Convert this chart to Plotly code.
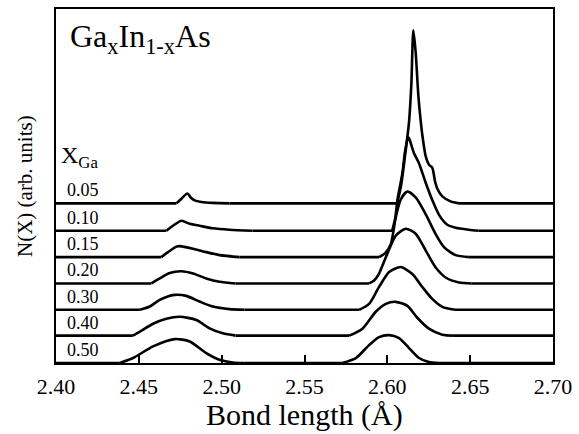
import plotly.graph_objects as go

# Ga fraction labels (top to bottom)
x_ga = ["0.05", "0.10", "0.15", "0.20", "0.30", "0.40", "0.50"]
# vertical offsets of each curve (arb. units)
offsets = [160.5, 133, 106.5, 80, 53.5, 27.5, 0]

bond_005 = [2.400, 2.4727, 2.4759, 2.4793, 2.4813, 2.4837, 2.4877, 2.4945, 2.5047, 2.6059, 2.6083, 2.6107, 2.6121, 2.6131, 2.6145, 2.6157, 2.6171, 2.6187, 2.6202, 2.6211, 2.6232, 2.6251, 2.6271, 2.6288, 2.6301, 2.6332, 2.6382, 2.6432, 2.700]
n_005 = [0, 0, 5, 10, 6, 3, 1.5, 0.5, 0, 0, 18, 48, 67, 82, 120, 174, 152, 109, 82, 69, 47, 39, 36, 22, 15, 7, 2, 0, 0]

bond_010 = [2.400, 2.4666, 2.4706, 2.4757, 2.4807, 2.4867, 2.4945, 2.5047, 2.5186, 2.6029, 2.6047, 2.6061, 2.6091, 2.6107, 2.6125, 2.6131, 2.6161, 2.6191, 2.6232, 2.6271, 2.6312, 2.6362, 2.6412, 2.6492, 2.6552, 2.700]
n_010 = [0, 0, 5, 10, 7, 5, 2.5, 1, 0, 0, 12, 31, 58, 80, 94, 93, 78, 68, 48, 31, 16, 6, 3, 1, 0, 0]

bond_015 = [2.400, 2.4636, 2.4676, 2.4727, 2.4746, 2.4827, 2.4907, 2.4987, 2.5108, 2.5950, 2.5987, 2.6021, 2.6051, 2.6081, 2.6121, 2.6171, 2.6232, 2.6292, 2.6342, 2.6412, 2.6492, 2.700]
n_015 = [0, 0, 5, 10.5, 11, 8.5, 5, 2, 0, 0, 4, 13, 40, 58, 66, 60, 43, 23, 10, 2, 0, 0]

bond_020 = [2.400, 2.4576, 2.4626, 2.4686, 2.4757, 2.4827, 2.4907, 2.4987, 2.5084, 2.5890, 2.5920, 2.5950, 2.6000, 2.6051, 2.6111, 2.6171, 2.6232, 2.6292, 2.6352, 2.6432, 2.6510, 2.700]
n_020 = [0, 0, 5, 10.5, 12.3, 10, 5, 1.7, 0, 0, 3, 10, 30, 48, 55, 50, 33, 16, 6, 1, 0, 0]

bond_030 = [2.400, 2.4506, 2.4566, 2.4626, 2.4716, 2.4787, 2.4867, 2.4947, 2.5047, 2.5138, 2.5830, 2.5890, 2.5950, 2.6011, 2.6081, 2.6151, 2.6211, 2.6271, 2.6332, 2.6408, 2.700]
n_030 = [0, 0, 3.3, 10, 15, 14, 8.3, 3.3, 0.7, 0, 0, 6, 23, 38, 43, 36, 23, 11, 3, 0, 0]

bond_040 = [2.400, 2.4464, 2.4506, 2.4586, 2.4666, 2.4746, 2.4847, 2.4927, 2.5007, 2.5084, 2.5770, 2.5850, 2.5930, 2.5991, 2.6051, 2.6121, 2.6181, 2.6251, 2.6332, 2.6402, 2.700]
n_040 = [0, 0, 4, 12, 17, 19, 15.7, 7.3, 2.3, 0, 0, 7, 24, 32, 34, 30, 18, 7, 1, 0, 0]

bond_050 = [2.400, 2.4385, 2.4465, 2.4586, 2.4716, 2.4807, 2.4907, 2.4987, 2.5067, 2.5138, 2.5728, 2.5810, 2.5890, 2.5950, 2.6011, 2.6071, 2.6131, 2.6191, 2.6251, 2.6312, 2.700]
n_050 = [0, 0, 5, 16.7, 24, 21.7, 10, 3.3, 0.5, 0, 0, 5, 18, 26, 28, 25, 15, 5, 1, 0, 0]

bonds = [bond_005, bond_010, bond_015, bond_020, bond_030, bond_040, bond_050]
ns = [n_005, n_010, n_015, n_020, n_030, n_040, n_050]

x_ticks = [2.40, 2.45, 2.50, 2.55, 2.60, 2.65, 2.70]

SERIF = "Liberation Serif, Times New Roman, serif"
LINE = dict(color="black", width=2.6)


def split_runs(xs, ys):
    """Return (peak index ranges, flat index ranges) for a curve."""
    peaks, i, n = [], 0, len(ys)
    while i < n:
        if ys[i] > 0:
            j = i
            while j < n and ys[j] > 0:
                j += 1
            peaks.append((i - 1, j))
            i = j
        else:
            i += 1
    flats, start = [], 0
    for a, b in peaks:
        flats.append((start, a))
        start = b
    flats.append((start, n - 1))
    return peaks, flats


fig = go.Figure()
for lab, off, bx, ny in zip(x_ga, offsets, bonds, ns):
    peaks, flats = split_runs(bx, ny)
    fx, fy = [], []
    for a, b in flats:
        fx += [bx[a], bx[b], None]
        fy += [ny[a] + off, ny[b] + off, None]
    fig.add_trace(go.Scatter(x=fx, y=fy, mode="lines", line=LINE,
                             showlegend=False, hoverinfo="skip"))
    for a, b in peaks:
        fig.add_trace(go.Scatter(
            x=bx[a:b + 1], y=[v + off for v in ny[a:b + 1]], mode="lines",
            line=dict(LINE, shape="spline", smoothing=0.7),
            showlegend=False, hoverinfo="skip"))

annotations = []
for lab, off in zip(x_ga, offsets):
    annotations.append(dict(x=2.4055, y=off, xref="x", yref="y", text=lab,
                            showarrow=False, xanchor="left", yanchor="bottom",
                            yshift=1, font=dict(family=SERIF, size=18, color="black")))

annotations.append(dict(x=2.402, y=190, xref="x", yref="y",
                        text="X<sub>Ga</sub>", showarrow=False,
                        xanchor="left", yanchor="bottom",
                        font=dict(family=SERIF, size=24, color="black")))
annotations.append(dict(x=0, y=1, xref="paper", yref="paper",
                        text="Ga<sub>x</sub>In<sub>1-x</sub>As", showarrow=False,
                        xanchor="left", yanchor="top", xshift=12, yshift=-7,
                        font=dict(family=SERIF, size=32, color="black")))
annotations.append(dict(x=0.5, y=0, xref="paper", yref="paper",
                        text="Bond length (Å)", showarrow=False,
                        xanchor="center", yanchor="middle", yshift=-52,
                        font=dict(family=SERIF, size=30, color="black")))
annotations.append(dict(x=0, y=0.50, xref="paper", yref="paper",
                        text="N(X) (arb. units)", showarrow=False, textangle=-90,
                        xanchor="center", yanchor="middle", xshift=-31,
                        font=dict(family=SERIF, size=21, color="black")))

fig.update_layout(
    width=579, height=434,
    margin=dict(l=56, r=25, t=7, b=71),
    paper_bgcolor="white", plot_bgcolor="white",
    annotations=annotations,
    xaxis=dict(range=[2.40, 2.70], tickvals=x_ticks, tickformat=".2f",
               ticks="inside", ticklen=8, tickwidth=1.5, tickcolor="black",
               showline=True, mirror=True, linecolor="black", linewidth=2,
               showgrid=False, zeroline=False, ticklabelstandoff=3,
               tickfont=dict(family=SERIF, size=22, color="black")),
    yaxis=dict(range=[0, 356], showticklabels=False, ticks="",
               showline=True, mirror=True, linecolor="black", linewidth=2,
               showgrid=False, zeroline=False),
)

fig.write_html("out.html")
